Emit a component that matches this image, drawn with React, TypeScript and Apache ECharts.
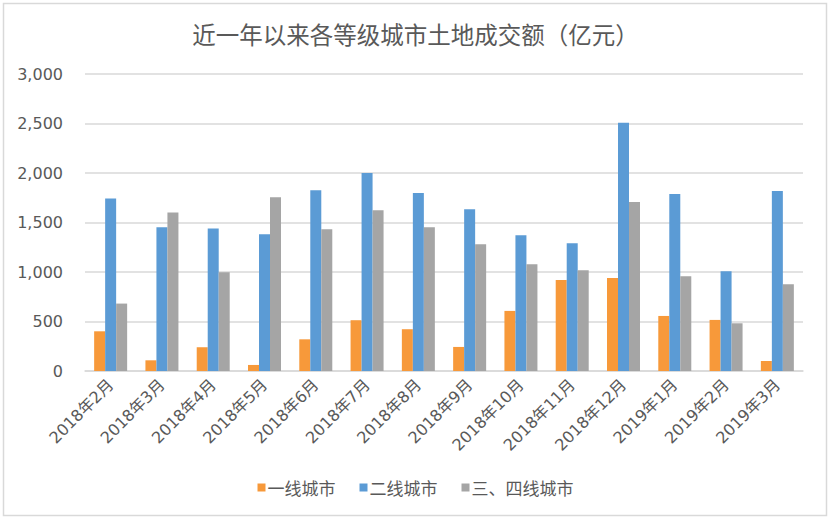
import React, { useEffect, useRef } from "react";
import * as echarts from "echarts";

const categories = [
  "2018年2月", "2018年3月", "2018年4月", "2018年5月", "2018年6月", "2018年7月", "2018年8月",
  "2018年9月", "2018年10月", "2018年11月", "2018年12月", "2019年1月", "2019年2月", "2019年3月",
];
const tier1 = [401, 108, 240, 61, 320, 513, 422, 243, 607, 920, 940, 556, 516, 101];
const tier2 = [1743, 1453, 1440, 1382, 1827, 1999, 1797, 1635, 1372, 1291, 2508, 1787, 1008, 1817];
const tier34 = [681, 1601, 998, 1756, 1433, 1625, 1453, 1281, 1079, 1018, 1706, 958, 482, 877];
const seriesNames = ["一线城市", "二线城市", "三、四线城市"];
const colors = ["#F7993A", "#5B9BD5", "#A5A5A5"];
const title = "近一年以来各等级城市土地成交额（亿元）";

const FONT = "'Noto Sans CJK SC', 'Noto Sans', sans-serif";
const NUMFONT = "'DejaVu Sans', 'Noto Sans CJK SC', sans-serif";

export default function App() {
  const ref = useRef<HTMLDivElement>(null);
  useEffect(() => {
    document.body.style.margin = "0";
    const chart = echarts.init(ref.current!, null, { renderer: "svg" });
    const mk = (name: string, data: number[], color: string) => ({
      name,
      type: "bar",
      data,
      barWidth: 11,
      barGap: "0%",
      itemStyle: { color },
    });
    chart.setOption({
      animation: false,
      backgroundColor: "#ffffff",
      textStyle: { fontFamily: FONT },
      title: {
        text: title,
        left: "center",
        top: 17,
        textStyle: { fontFamily: FONT, fontSize: 23.5, fontWeight: "normal", color: "#595959" },
      },
      graphic: [
        {
          type: "rect",
          shape: { x: 3.5, y: 3.5, width: 823, height: 512 },
          style: { fill: "none", stroke: "#D9D9D9", lineWidth: 1.5 },
          silent: true,
        },
      ],
      legend: {
        bottom: 18,
        left: "center",
        itemWidth: 8,
        itemHeight: 8,
        itemGap: 24,
        icon: "rect",
        textStyle: { fontFamily: FONT, fontSize: 17, color: "#595959", padding: [0, 0, 0, -3] },
        data: seriesNames,
      },
      grid: { left: 85, right: 28, top: 74, bottom: 148 },
      xAxis: {
        type: "category",
        data: categories,
        axisTick: { show: false },
        axisLine: { lineStyle: { color: "#D9D9D9", width: 1.5 } },
        axisLabel: {
          rotate: 45,
          interval: 0,
          margin: 11,
          fontFamily: NUMFONT,
          fontSize: 16,
          color: "#595959",
        },
      },
      yAxis: {
        type: "value",
        min: 0,
        max: 3000,
        interval: 500,
        axisLine: { show: false },
        axisTick: { show: false },
        splitLine: { lineStyle: { color: "#D9D9D9", width: 1.5 } },
        axisLabel: {
          margin: 22,
          fontFamily: NUMFONT,
          fontSize: 16,
          color: "#595959",
          formatter: (v: number) => v.toLocaleString("en-US"),
        },
      },
      series: [
        mk(seriesNames[0], tier1, colors[0]),
        mk(seriesNames[1], tier2, colors[1]),
        mk(seriesNames[2], tier34, colors[2]),
      ],
    });
    return () => chart.dispose();
  }, []);
  return <div ref={ref} style={{ width: 831, height: 519 }} />;
}
